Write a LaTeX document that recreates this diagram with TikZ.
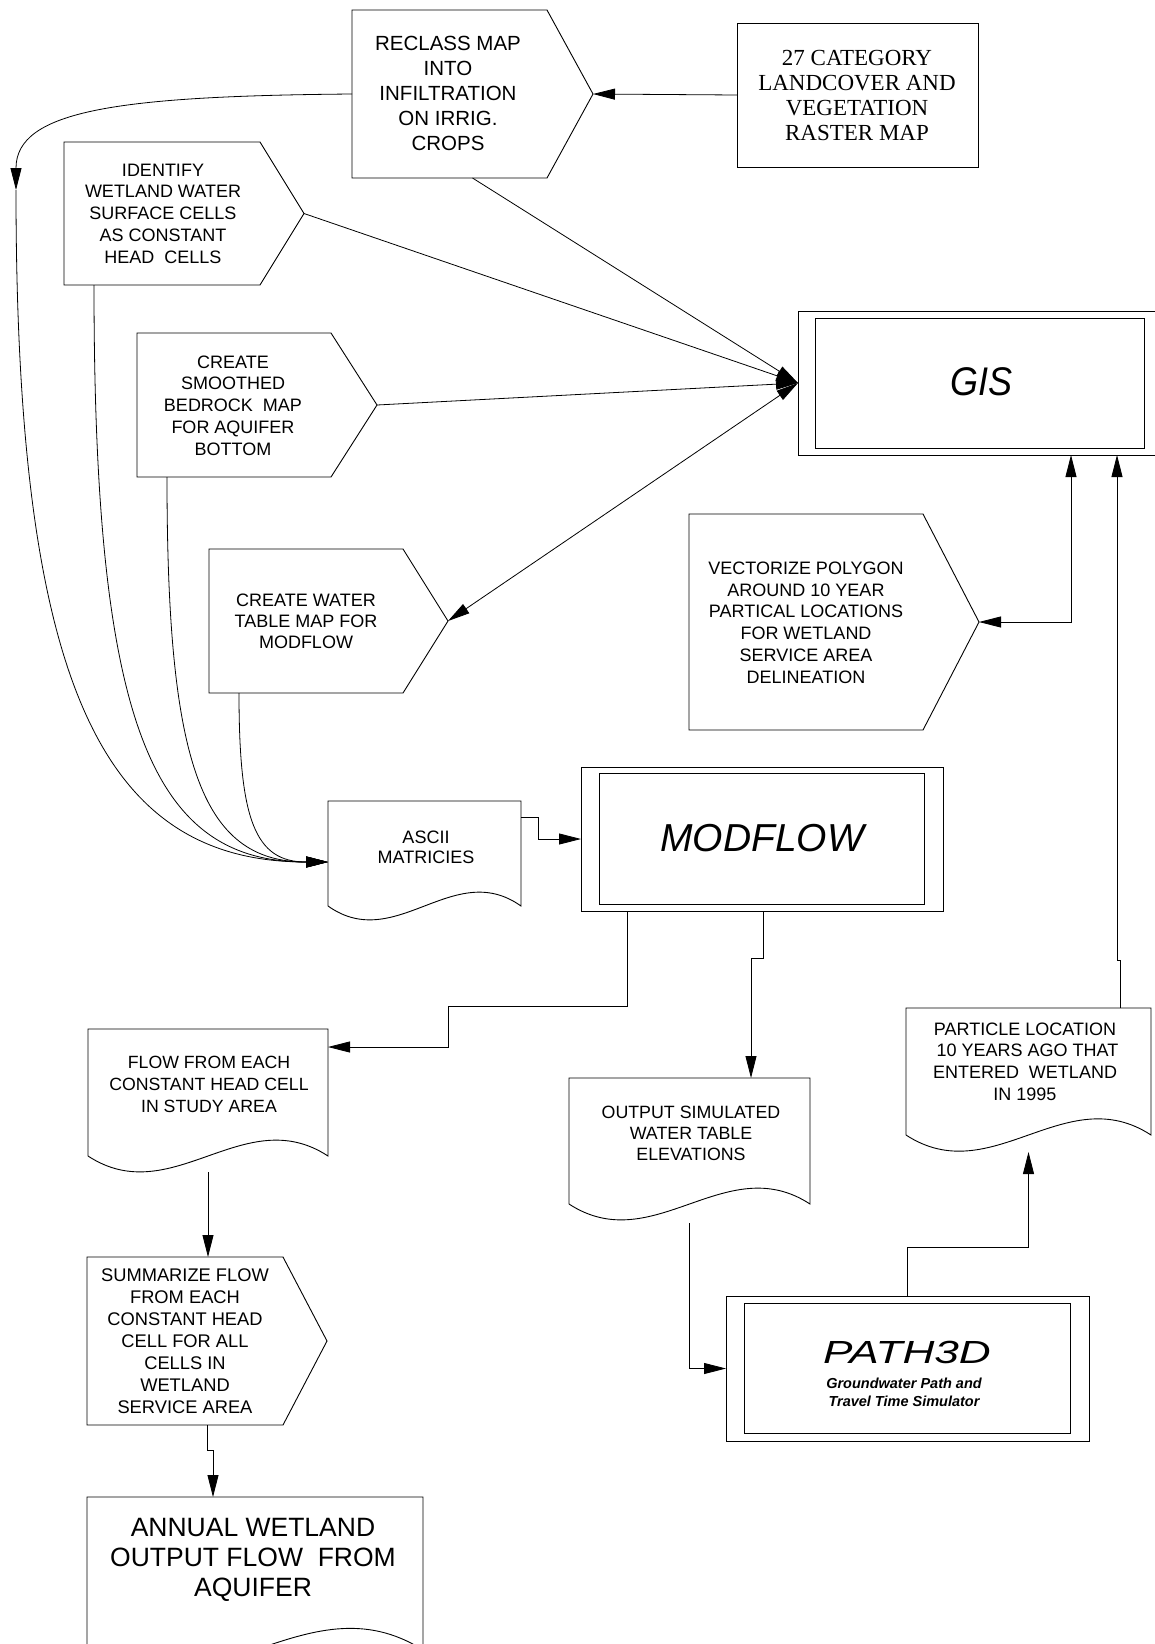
\documentclass[tikz,border=0pt]{standalone}
\usepackage{fontspec}
\setmainfont{Liberation Sans}
\newfontfamily\catfont{Liberation Serif}
\usetikzlibrary{arrows.meta,calc}
\tikzset{
  frame/.style={draw=none, inner sep=0pt, outer sep=0pt, rectangle},
  innerbox/.style={draw=black, line width=0.9pt, inner sep=0pt, outer sep=0pt, rectangle},
  outline/.style={draw=black, line width=0.9pt, line join=miter},
  conn/.style={draw=black, line width=0.8pt},
  arr/.style={conn, -{Triangle[length=22pt,width=11pt]}},
  darr/.style={conn, {Triangle[length=22pt,width=11pt]}-{Triangle[length=22pt,width=11pt]}},
  txt/.style={inner sep=0pt, outer sep=0pt, align=center, font=\fontsize{18}{21.75}\selectfont},
}
\newcommand\pentag[2]{\draw[outline] (#1.north west) -- ([xshift=-#2pt]#1.north east) -- (#1.east) -- ([xshift=-#2pt]#1.south east) -- (#1.south west) -- cycle;}
\newcommand\docshape[2]{\draw[outline] (#1.south west) -- (#1.north west) -- (#1.north east) -- (#1.south east) .. controls ($(#1.south east)!0.35!(#1.south west)+(0,-#2)$) and ($(#1.south east)!0.65!(#1.south west)+(0,#2)$) .. (#1.south west);}
\begin{document}
\begin{tikzpicture}[x=1pt,y=-1pt]
\useasboundingbox (0,0) rectangle (1155,1644);
\fill[white] (0,0) rectangle (1155,1644);
\clip (0,0) rectangle (1155,1644);

% ---------- shape frames ----------
\node[frame, minimum width=241pt, minimum height=144pt, draw=black, line width=0.9pt] (cat) at (857.5,95) {};
\node[frame, minimum width=241pt, minimum height=168pt] (reclass) at (472.5,94) {};
\node[frame, minimum width=240pt, minimum height=143pt] (identify) at (184,213.5) {};
\node[frame, minimum width=240pt, minimum height=144pt] (smoothed) at (257,405) {};
\node[frame, minimum width=239pt, minimum height=144pt] (water) at (328.5,621) {};
\node[frame, minimum width=290pt, minimum height=216pt] (vector) at (834,622) {};
\node[frame, minimum width=240pt, minimum height=168pt] (summ) at (207,1341) {};

\node[frame, minimum width=193pt, minimum height=105pt] (ascii) at (424.5,853.5) {};
\node[frame, minimum width=240pt, minimum height=127pt] (flow) at (208,1092.5) {};
\node[frame, minimum width=241pt, minimum height=126pt] (output) at (689.5,1141) {};
\node[frame, minimum width=245pt, minimum height=127pt] (particle) at (1028.5,1071.5) {};
\node[frame, minimum width=336pt, minimum height=153pt] (annual) at (255,1573.5) {};

\node[innerbox, minimum width=387pt, minimum height=144pt] (gis) at (991.5,383) {};
\node[innerbox, minimum width=329pt, minimum height=130pt] (gisin) at (979.5,383) {};
\node[innerbox, minimum width=362pt, minimum height=144pt] (modflow) at (762,839) {};
\node[innerbox, minimum width=325pt, minimum height=131pt] (modflowin) at (761.5,838.5) {};
\node[innerbox, minimum width=363pt, minimum height=145pt] (path3d) at (907.5,1368.5) {};
\node[innerbox, minimum width=326pt, minimum height=130pt] (path3din) at (907,1368) {};

\pentag{reclass}{46}
\pentag{identify}{44}
\pentag{smoothed}{46}
\pentag{water}{45}
\pentag{vector}{56}
\pentag{summ}{44}

\docshape{ascii}{48}
\docshape{flow}{55}
\docshape{output}{55}
\docshape{particle}{56}
\docshape{annual}{75}

% ---------- texts ----------
\node[txt, font=\catfont\fontsize{23}{25}\selectfont] (catT) at (857,95.5) {27 CATEGORY\\LANDCOVER AND\\VEGETATION\\RASTER MAP};
\node[txt, font=\fontsize{20.5}{25}\selectfont] (reclassT) at (448,93) {RECLASS MAP\\INTO\\INFILTRATION\\ON IRRIG.\\CROPS};
\node[txt] (identifyT) at (163,213.5) {IDENTIFY\\WETLAND WATER\\SURFACE CELLS\\AS CONSTANT\\HEAD\ \ CELLS};
\node[txt] (smoothedT) at (233,405.5) {CREATE\\SMOOTHED\\BEDROCK\ \ MAP\\FOR AQUIFER\\BOTTOM};
\node[txt, font=\fontsize{18}{21}\selectfont] (waterT) at (306,621) {CREATE WATER\\TABLE MAP FOR\\MODFLOW};
\node[txt, font=\fontsize{18}{21.8}\selectfont] (vectorT) at (806,622.5) {VECTORIZE POLYGON\\AROUND 10 YEAR\\PARTICAL LOCATIONS\\FOR WETLAND\\SERVICE AREA\\DELINEATION};
\node[txt, font=\fontsize{18}{20}\selectfont] (asciiT) at (426,847) {ASCII\\MATRICIES};
\node[txt, font=\fontsize{17.7}{22}\selectfont] (flowT) at (209,1084) {FLOW FROM EACH\\CONSTANT HEAD CELL\\IN STUDY AREA};
\node[txt, font=\fontsize{17.8}{21}\selectfont] (outputT) at (691,1133) {OUTPUT SIMULATED\\WATER TABLE\\ELEVATIONS};
\node[txt, font=\fontsize{18}{21.7}\selectfont] (particleT) at (1025,1061.5) {PARTICLE LOCATION\\\ 10 YEARS AGO THAT\\ENTERED\ \ WETLAND\\IN 1995};
\node[txt, font=\fontsize{18.3}{22}\selectfont] (summT) at (185,1341) {SUMMARIZE FLOW\\FROM EACH\\CONSTANT HEAD\\CELL FOR ALL\\CELLS IN\\WETLAND\\SERVICE AREA};
\node[txt, font=\fontsize{26.5}{30}\selectfont] (annualT) at (253,1560) {ANNUAL WETLAND\\OUTPUT FLOW\ \ FROM\\AQUIFER};

\node[txt, font=\itshape\fontsize{40}{40}\selectfont] (gisT) at (981,382) {\scalebox{0.9}[1]{GIS}};
\node[txt, font=\itshape\fontsize{39}{39}\selectfont] (modflowT) at (762,838) {MODFLOW};
\node[txt, font=\itshape\fontsize{32}{32}\selectfont] (path3dT) at (907,1352) {\scalebox{1.38}[1]{PATH3D}};
\node[txt, font=\bfseries\itshape\fontsize{14.5}{18}\selectfont] (path3dS) at (904,1392) {Groundwater Path and\\Travel Time Simulator};

% ---------- connectors ----------
\draw[arr] (cat.west) -- (reclass.east);

\coordinate (c1) at (16,190);
\coordinate (ain) at ($(ascii.west)+(0,8.5)$);
\draw[arr] (reclass.west) .. controls (120,96) and (16,110) .. (c1);
\draw[arr] (c1) .. controls (16,680) and (100,862) .. (ain);
\draw[arr] ([xshift=30pt]identify.south west) .. controls (94,720) and (150,862) .. (ain);
\draw[arr] ([xshift=30pt]smoothed.south west) .. controls (167,760) and (200,862) .. (ain);
\draw[arr] ([xshift=30pt]water.south west) .. controls (239,820) and (255,862) .. (ain);

\draw[arr] (reclass.south) -- (gis.west);
\draw[arr] (identify.east) -- (gis.west);
\draw[arr] (smoothed.east) -- (gis.west);
\draw[darr] (water.east) -- (gis.west);

\draw[darr] (vector.east) -| ([xshift=273pt]gis.south west);
\draw[arr] ([xshift=214pt]particle.north west) -- ++(0,-48) -- ++(-3,0) -- ([xshift=319pt]gis.south west);

\draw[arr] ([yshift=-16pt]ascii.north east) -- ++(17,0) |- (modflow.west);
\draw[arr] ([xshift=46pt]modflow.south west) -- ++(0,95) -- ++(-179,0) |- ([yshift=-18pt]flow.north east);
\draw[arr] ([xshift=182pt]modflow.south west) -- ++(0,47) -| ([xshift=182pt]output.north west);
\draw[arr] ([yshift=-19pt]output.south) |- (path3d.west);
\draw[arr] (path3d.north) -- ++(0,-49) -| ([yshift=-17pt]particle.south);
\draw[arr] ([yshift=-16pt]flow.south) -- (flow.south |- summ.north);
\draw[arr] (summ.south) -- ++(0,25) -| ([xshift=126pt]annual.north west);
\end{tikzpicture}
\end{document}
